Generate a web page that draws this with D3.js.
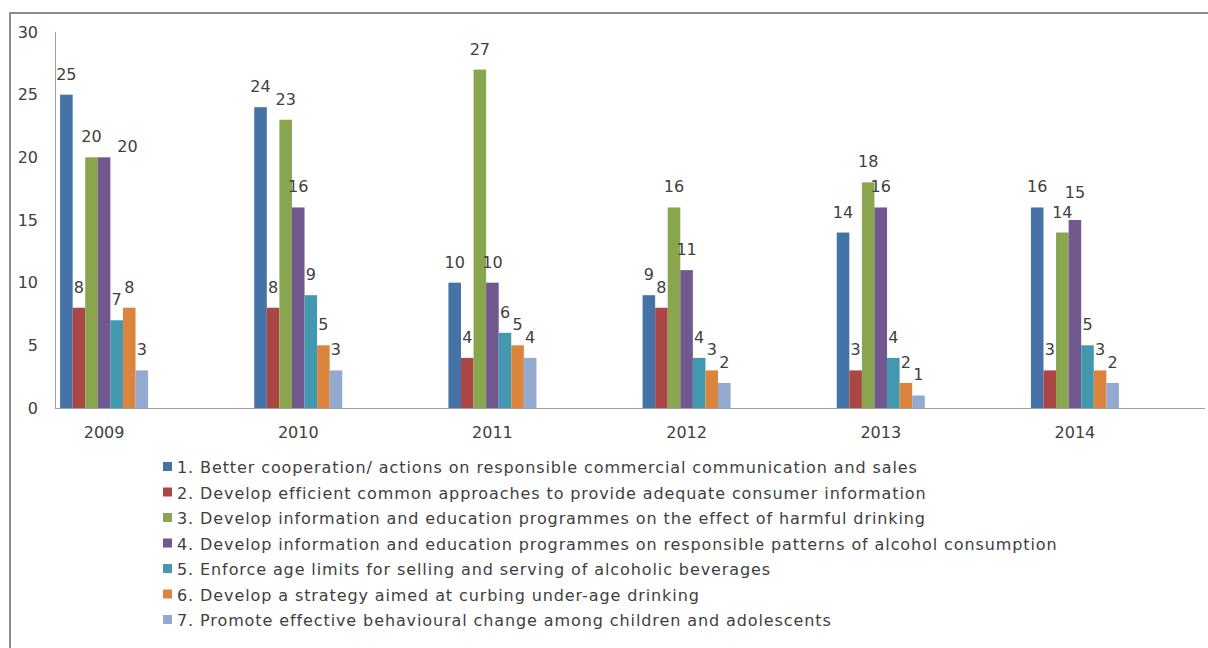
<!DOCTYPE html>
<html>
<head>
<meta charset="utf-8">
<script src="https://cdn.jsdelivr.net/npm/d3@7/dist/d3.min.js"></script>
<style>
  html, body { margin: 0; padding: 0; background: #fff; }
  svg { display: block; }
  text { font-family: "DejaVu Sans", sans-serif; fill: #404040; }
</style>
</head>
<body>
<svg id="chart" width="1208" height="648"></svg>
<script>
// Years on the category axis
const years = ["2009", "2010", "2011", "2012", "2013", "2014"];

// Priority areas (series)
const seriesNames = [
  "1. Better cooperation/ actions on responsible commercial communication and sales",
  "2. Develop efficient common approaches to provide adequate consumer information",
  "3. Develop information and education programmes on the effect of harmful drinking",
  "4. Develop information and education programmes on responsible patterns of alcohol consumption",
  "5. Enforce age limits for selling and serving of alcoholic beverages",
  "6. Develop a strategy aimed at curbing under-age drinking",
  "7. Promote effective behavioural change among children and adolescents"
];

// Counts per series, one value per year
const s1 = [25, 24, 10, 9, 14, 16];
const s2 = [8, 8, 4, 8, 3, 3];
const s3 = [20, 23, 27, 16, 18, 14];
const s4 = [20, 16, 10, 11, 16, 15];
const s5 = [7, 9, 6, 4, 4, 5];
const s6 = [8, 5, 5, 3, 2, 3];
const s7 = [3, 3, 4, 2, 1, 2];
const seriesValues = [s1, s2, s3, s4, s5, s6, s7];

// Value axis ticks
const yTicks = [0, 5, 10, 15, 20, 25, 30];

const colors = ["#4572A7", "#AA4643", "#89A54E", "#71588F", "#4198AF", "#DB843D", "#93A9CF"];

const svg = d3.select("#chart");

// Outer frame (top and left edges visible)
svg.append("path")
  .attr("d", "M10,660 V13 H1220")
  .attr("fill", "none")
  .attr("stroke", "#8c8c8c")
  .attr("stroke-width", 2);

const plotLeft = 55, plotTop = 32, plotBottom = 408, axisRight = 1205;

const y = d3.scaleLinear().domain([0, 30]).range([plotBottom, plotTop]);

const x = d3.scaleBand().domain(years).range([7, 1172]).padding(0);
const groupWidth = 88;
const xInner = d3.scaleBand().domain(d3.range(seriesNames.length))
  .range([-groupWidth / 2, groupWidth / 2]).padding(0);

// Value axis labels
const yAxis = d3.axisLeft(y).tickValues(yTicks).tickSize(0).tickPadding(0);
const gy = svg.append("g").attr("transform", `translate(38,0)`).call(yAxis);
gy.select(".domain").remove();
gy.selectAll("text").attr("font-size", 16).attr("font-family", "DejaVu Sans, sans-serif").attr("fill", "#404040");

// Axis lines
svg.append("line")
  .attr("x1", plotLeft + 0.5).attr("x2", plotLeft + 0.5)
  .attr("y1", plotTop).attr("y2", plotBottom)
  .attr("stroke", "#a0a0a0").attr("stroke-width", 1);

// Bars
const groups = svg.append("g").selectAll("g")
  .data(years)
  .join("g")
  .attr("transform", d => `translate(${x(d) + x.bandwidth() / 2},0)`);

const cells = [];
years.forEach((yr, yi) => {
  seriesValues.forEach((vals, si) => {
    cells.push({ year: yr, yi, si, value: vals[yi] });
  });
});

groups.each(function (yr, yi) {
  d3.select(this).selectAll("rect")
    .data(cells.filter(c => c.yi === yi))
    .join("rect")
    .attr("x", d => xInner(d.si))
    .attr("width", xInner.bandwidth())
    .attr("y", d => y(d.value))
    .attr("height", d => y(0) - y(d.value))
    .attr("fill", d => colors[d.si]);
});

// Category axis line and labels
svg.append("line")
  .attr("x1", plotLeft).attr("x2", axisRight)
  .attr("y1", plotBottom + 0.5).attr("y2", plotBottom + 0.5)
  .attr("stroke", "#a0a0a0").attr("stroke-width", 1);

const xAxis = d3.axisBottom(x).tickSize(0).tickPadding(0);
const gx = svg.append("g").attr("transform", `translate(0,${plotBottom + 30})`).call(xAxis);
gx.select(".domain").remove();
gx.selectAll("text").attr("font-size", 16).attr("dy", 0)
  .attr("font-family", "DejaVu Sans, sans-serif").attr("fill", "#404040");

// Data labels above each bar. A label that clearly collides with a
// neighbour goes to the upper right of its bar; a partial overlap is
// resolved by lifting the label just clear of the other one.
const labelLayer = svg.append("g");
const placed = [];
const boxOf = node => {
  const b = node.getBBox();
  return { x0: b.x, x1: b.x + b.width, y0: b.y, y1: b.y + b.height };
};
const overlaps = (a, b) => a.x0 < b.x1 && a.x1 > b.x0 && a.y0 < b.y1 && a.y1 > b.y0;
cells.forEach(c => {
  const cx = x(c.year) + x.bandwidth() / 2 + xInner(c.si) + xInner.bandwidth() / 2;
  const top = y(c.value);
  const t = labelLayer.append("text")
    .attr("font-size", 16)
    .attr("text-anchor", "middle")
    .attr("x", cx)
    .attr("y", top - 15)
    .text(c.value);
  let box = boxOf(t.node());
  const hit = placed.find(b => overlaps(box, b));
  if (hit) {
    const depth = box.y1 - hit.y0;
    if (depth <= 9) {
      t.attr("y", top - 15 - depth - 0.5);
    } else {
      t.attr("text-anchor", "start")
        .attr("x", cx + xInner.bandwidth() / 2 + 7)
        .attr("y", top - 5);
    }
    box = boxOf(t.node());
  }
  placed.push(box);
});

// Legend
const legend = svg.append("g").attr("transform", "translate(163,467)");
const rows = legend.selectAll("g")
  .data(seriesNames)
  .join("g")
  .attr("transform", (d, i) => `translate(0,${i * 25.5})`);
rows.append("rect")
  .attr("x", 0).attr("y", -5).attr("width", 9).attr("height", 9)
  .attr("fill", (d, i) => colors[i]);
rows.append("text")
  .attr("x", 14).attr("y", 6)
  .attr("font-size", 16)
  .attr("letter-spacing", 0.9)
  .text(d => d);
</script>
</body>
</html>
